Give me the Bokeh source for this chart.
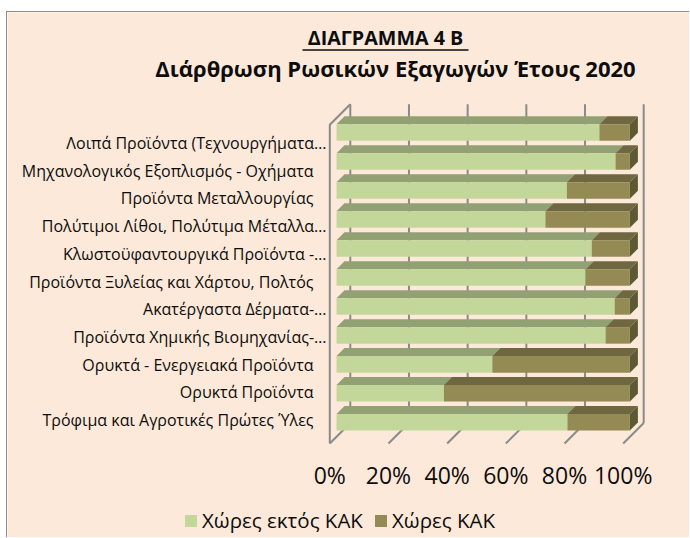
from bokeh.plotting import figure
from bokeh.models import Range1d, Legend, LegendItem
from bokeh.core.properties import value
from bokeh.embed import file_html
from bokeh.resources import INLINE

# ---------------- data ----------------
categories = [  # bottom -> top
    "Τρόφιμα και Αγροτικές Πρώτες Ύλες",
    "Ορυκτά Προϊόντα",
    "Ορυκτά - Ενεργειακά Προϊόντα",
    "Προϊόντα Χημικής Βιομηχανίας-…",
    "Ακατέργαστα Δέρματα-…",
    "Προϊόντα Ξυλείας και Χάρτου, Πολτός",
    "Κλωστοϋφαντουργικά Προϊόντα -…",
    "Πολύτιμοι Λίθοι, Πολύτιμα Μέταλλα…",
    "Προϊόντα Μεταλλουργίας",
    "Μηχανολογικός Εξοπλισμός - Οχήματα",
    "Λοιπά Προϊόντα (Τεχνουργήματα…",
]
outside_cis = [78.7, 36.6, 53.1, 91.7, 94.8, 84.9, 87.0, 71.2, 78.5, 95.1, 89.6]
cis = [21.3, 63.4, 46.9, 8.3, 5.2, 15.1, 13.0, 28.8, 21.5, 4.9, 10.4]
series_names = ["Χώρες εκτός ΚΑΚ", "Χώρες ΚΑΚ"]
tick_values = [0, 0.2, 0.4, 0.6, 0.8, 1]
tick_labels = ["0%", "20%", "40%", "60%", "80%", "100%"]
title_1 = "ΔΙΑΓΡΑΜΜΑ 4 Β"
title_2 = "Διάρθρωση Ρωσικών Εξαγωγών Έτους 2020"

# ---------------- layout / style ----------------
W, H = 683, 526
CANVAS_L, CANVAS_T = 7, 12          # screen position of canvas
X0_PX, X1_PX = 329.3, 622.7         # 0% / 100% on the front floor edge
Y0_PX = 443.0                       # front floor edge
ROW_PX = 28.97                      # category pitch
DEPTH_PX = 20.5                     # wall depth offset (x right, y up)
D_FRONT, D_BACK = 0.327, 0.717      # bar depth span
BAR_HALF = 0.285                    # half bar thickness (category units)
LABEL_RIGHT_PX = 313.0
LABEL_ELLIPSIS_SHIFT = 13.0
LABEL_Y0_PX, LABEL_PITCH_PX = 419.5, 27.7
TICK_LABEL_Y_PX = 474.0

BG = "#FDE9D9"
GRID = "#8A8A8A"
TXT = "#0D0D0D"
FONT = "Open Sans"
GREEN_FRONT, GREEN_TOP = "#C4D79B", "#92A173"
BROWN_FRONT, BROWN_TOP, BROWN_SIDE = "#948A54", "#6E6740", "#5E5935"

SX = X1_PX - X0_PX
x_range = Range1d((CANVAS_L - X0_PX) / SX, (CANVAS_L + W - X0_PX) / SX)
y_range = Range1d((Y0_PX - (CANVAS_T + H)) / ROW_PX, (Y0_PX - CANVAS_T) / ROW_PX)
DX = DEPTH_PX / SX
DY = DEPTH_PX / ROW_PX


def px_x(sx_):
    return (sx_ - X0_PX) / SX


def px_y(sy_):
    return (Y0_PX - sy_) / ROW_PX


def proj(pts):
    return [x + d * DX for x, y, d in pts], [y + d * DY for x, y, d in pts]


p = figure(width=W, height=H, x_range=x_range, y_range=y_range,
           output_backend="svg", toolbar_location=None,
           min_border=0, x_axis_location=None, y_axis_location=None,
           background_fill_color=BG, border_fill_color=BG,
           outline_line_color=None)
p.grid.visible = False
p.styles = {"margin-left": "6px", "margin-top": "11px",
            "border-left": "1px solid #8C8C8C", "border-top": "1px solid #8C8C8C"}

n = len(categories)

# ---- walls ----
wall_xs, wall_ys = [], []
for t in tick_values:
    xs, ys = proj([(t, 0, 1), (t, n, 1)])
    wall_xs.append(xs); wall_ys.append(ys)
    xs, ys = proj([(t, 0, 0), (t, 0, 1)])
    wall_xs.append(xs); wall_ys.append(ys)
xs, ys = proj([(0, 0, 0), (0, n, 0), (0, n, 1)])
wall_xs.append(xs); wall_ys.append(ys)
p.multi_line(wall_xs, wall_ys, line_color=GRID, line_width=2)

# ---- bars ----
faces = {"gf": ([], []), "gt": ([], []), "bf": ([], []), "bt": ([], []), "bs": ([], [])}
for k in range(n):
    tot = outside_cis[k] + cis[k]
    v = outside_cis[k] / tot
    yc = k + 0.5
    lo, hi = yc - BAR_HALF, yc + BAR_HALF
    for key_f, key_t, a, b in (("gf", "gt", 0.0, v), ("bf", "bt", v, 1.0)):
        xs, ys = proj([(a, lo, D_FRONT), (b, lo, D_FRONT), (b, hi, D_FRONT), (a, hi, D_FRONT)])
        faces[key_f][0].append(xs); faces[key_f][1].append(ys)
        xs, ys = proj([(a, hi, D_FRONT), (b, hi, D_FRONT), (b, hi, D_BACK), (a, hi, D_BACK)])
        faces[key_t][0].append(xs); faces[key_t][1].append(ys)
    xs, ys = proj([(1, lo, D_FRONT), (1, lo, D_BACK), (1, hi, D_BACK), (1, hi, D_FRONT)])
    faces["bs"][0].append(xs); faces["bs"][1].append(ys)

p.patches(*faces["gt"], fill_color=GREEN_TOP, line_color=None)
p.patches(*faces["bt"], fill_color=BROWN_TOP, line_color=None)
p.patches(*faces["bs"], fill_color=BROWN_SIDE, line_color=None)
r_green = p.patches(*faces["gf"], fill_color=GREEN_FRONT, line_color=None)
r_brown = p.patches(*faces["bf"], fill_color=BROWN_FRONT, line_color=None)

# ---- category labels ----
lab_x = [px_x(LABEL_RIGHT_PX + (LABEL_ELLIPSIS_SHIFT if c.endswith("…") else 0)) for c in categories]
lab_y = [px_y(LABEL_Y0_PX - LABEL_PITCH_PX * k) for k in range(n)]
p.text(lab_x, lab_y, text=categories, text_font=value(FONT), text_font_size="16px",
       text_color=TXT, text_align="right", text_baseline="middle")

# ---- value-axis tick labels ----
p.text(tick_values, [px_y(TICK_LABEL_Y_PX)] * len(tick_values), text=tick_labels,
       text_font=value(FONT), text_font_size="23px", text_color=TXT,
       text_align="center", text_baseline="middle")

# ---- titles ----
p.text([px_x(385)], [px_y(37)], text=[title_1], text_font=value(FONT),
       text_font_size="19.7px", text_font_style="bold", text_color=TXT,
       text_align="center", text_baseline="middle")
p.line([px_x(302), px_x(468)], [px_y(49.5), px_y(49.5)], line_color=TXT, line_width=1.5)
p.text([px_x(395)], [px_y(67.5)], text=[title_2], text_font=value(FONT),
       text_font_size="22px", text_font_style="bold", text_color=TXT,
       text_align="center", text_baseline="middle")

# ---- legend ----
legend = Legend(items=[LegendItem(label=series_names[0], renderers=[r_green]),
                       LegendItem(label=series_names[1], renderers=[r_brown])],
                orientation="horizontal", location=(176, 4),
                glyph_width=15, glyph_height=15, label_standoff=4, spacing=10,
                padding=0, margin=0, border_line_color=None,
                background_fill_alpha=0, label_text_font=FONT,
                label_text_font_size="20.5px", label_text_color=TXT)
p.add_layout(legend)

open("out.html", "w").write(file_html(p, INLINE))
